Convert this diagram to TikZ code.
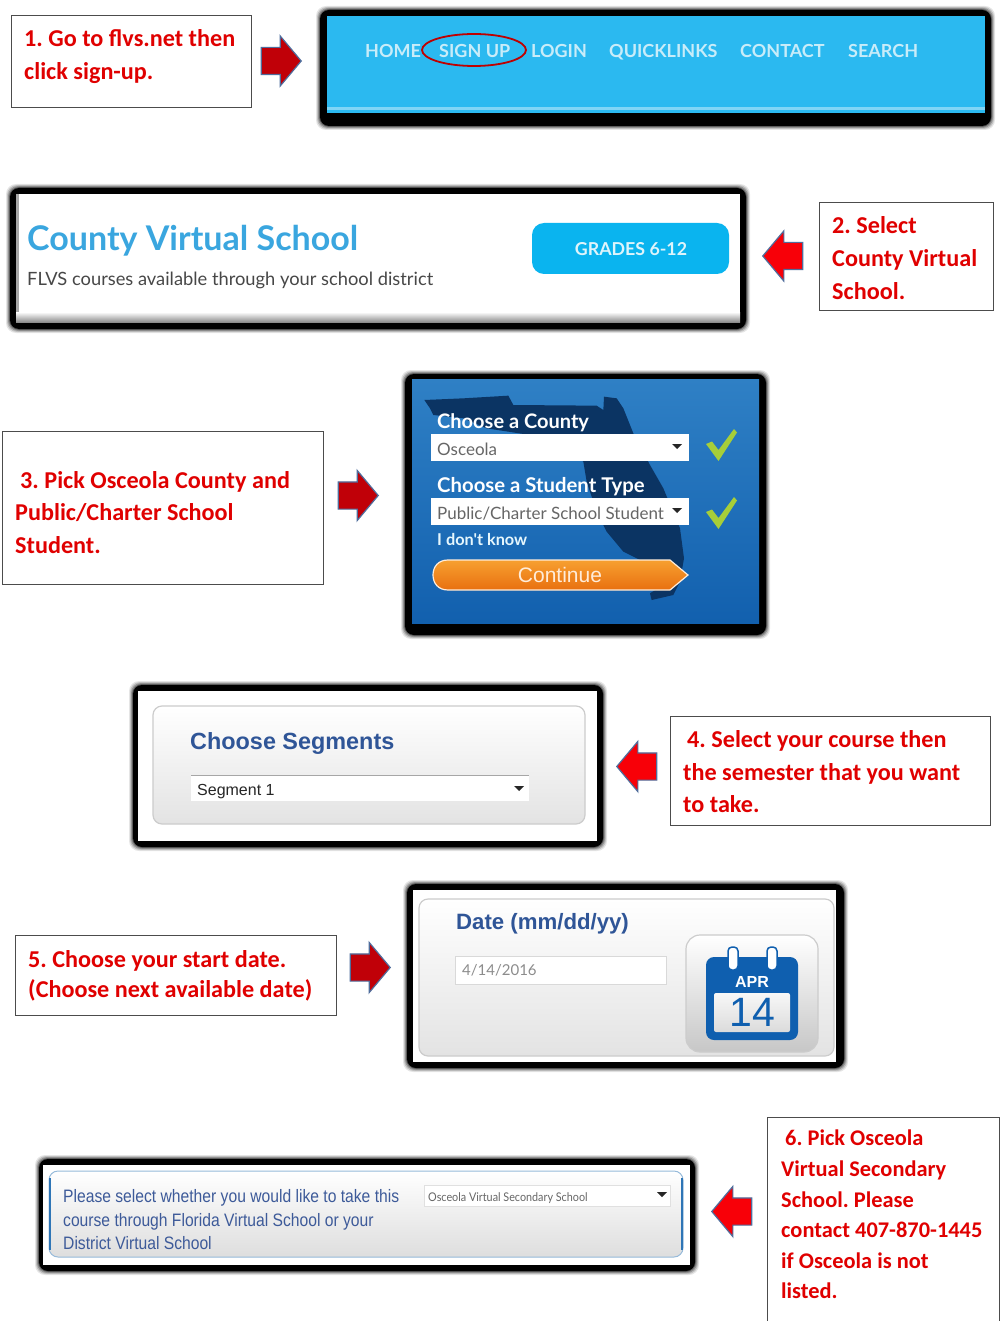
\documentclass[tikz,border=0pt]{standalone}
\usepackage{fontspec}
\setmainfont{Carlito}
\newfontfamily\uifont{Lato}
\newfontfamily\uinarrow[FakeStretch=0.9]{Lato}
\newfontfamily\arialfont{Liberation Sans}
\newfontfamily\arialnarrow[FakeStretch=0.87]{Liberation Sans}
\usetikzlibrary{shapes.arrows,shapes.geometric}
\definecolor{labred}{HTML}{E00000}
\definecolor{navtxt}{HTML}{C8ECF9}
\definecolor{skyblue}{HTML}{2BB9F0}
\definecolor{titleblue}{HTML}{3AA6DF}
\definecolor{heavyblue}{HTML}{2F5597}
\definecolor{arrowedge}{HTML}{4F6D9C}
\definecolor{darkarrow}{HTML}{C00008}
\definecolor{brightarrow}{HTML}{F80008}
\definecolor{floridablue}{HTML}{0B3463}
\definecolor{checkgreen}{HTML}{A6CE39}
\definecolor{calblue}{HTML}{0F5FAF}
\definecolor{panelline}{HTML}{CCCCCC}
\definecolor{segtext}{HTML}{3D5A99}
\definecolor{btnblue}{HTML}{0AB4EF}
\definecolor{fltop}{HTML}{2F80C5}
\definecolor{flbot}{HTML}{1260AE}
\definecolor{ortop}{HTML}{F7A030}
\definecolor{orbot}{HTML}{E87010}
\definecolor{sixedge}{HTML}{2E75B6}
\tikzset{
  x=1pt,y=-1pt,
  notebox/.style={draw=black!70,line width=1pt,fill=white},
  bluearrow/.style={single arrow,draw=arrowedge,line width=1.2pt,inner sep=0pt,
     minimum height=40pt,single arrow head extend=11.5pt,
     single arrow tip angle=100,single arrow head indent=0pt,anchor=tip},
  rightarrow/.style={bluearrow,fill=darkarrow},
  leftarrow/.style={bluearrow,fill=brightarrow,shape border rotate=180},
  lab/.style={anchor=base west,inner sep=0pt,text=labred,font=\bfseries\fontsize{24.2}{24.2}\selectfont\frenchspacing},
  labsix/.style={lab,font=\bfseries\fontsize{22.4}{22.4}\selectfont\frenchspacing},
  ui/.style={anchor=base west,inner sep=0pt},
  nav/.style={ui,text=navtxt,font=\uifont\bfseries\fontsize{18}{18}\selectfont},
  panel/.style={draw=panelline,line width=1.2pt,rounded corners=9pt,top color=white,bottom color=black!11},
  field/.style={fill=white,draw=none},
  caret/.style={fill=black!85,draw=none},
  tick/.style={fill=checkgreen,draw=none},
}
\newcommand{\shot}[4]{%
  \foreach \k/\o in {4/.10,3/.16,2/.24,1/.36}{
    \fill[black,opacity=\o,rounded corners=10pt] (#1-\k,#2-\k) rectangle (#3+\k,#4+\k);
  }
  \fill[black,rounded corners=9pt] (#1,#2) rectangle (#3,#4);
}
\newcommand{\drop}[2]{\fill[caret] (#1-5,#2-2) -- (#1+5,#2-2) -- (#1,#2+3) -- cycle;}
\newcommand{\tickmark}[2]{\fill[tick,shift={(#1,#2)}] (0,15) -- (6,12.5) -- (12.5,21) -- (28,0) -- (31,3.5) -- (12.5,32) -- cycle;}
\newcommand{\shaft}{\rule{0pt}{26pt}}
\begin{document}
\begin{tikzpicture}
\useasboundingbox (0,0) rectangle (1000,1321);
\fill[white] (0,0) rectangle (1000,1321);

% --- step 1
\draw[notebox] (11,16) rectangle (251,108);
\node[lab] (t1a) at (24,47) {1. Go to flvs.net then};
\node[lab] (t1b) at (24,80) {click sign-up.};
\node[rightarrow] (a1) at (302,61) {\shaft};
\shot{320}{10}{991}{126}
\fill[skyblue] (327,16) rectangle (985,113);
\fill[skyblue!60!white] (327,107) rectangle (985,110);
\node[nav] (n1) at (365,58) {HOME};
\node[nav] (n2) at (439,58) {SIGN UP};
\node[nav] (n3) at (531,58) {LOGIN};
\node[nav] (n4) at (609,58) {QUICKLINKS};
\node[nav] (n5) at (740,58) {CONTACT};
\node[nav] (n6) at (848,58) {SEARCH};
\draw[red!75!black,line width=1.8pt] (474,50) ellipse [x radius=52,y radius=16];

% --- step 2
\draw[notebox] (819,203) rectangle (993,310);
\node[lab] (t2a) at (832,234) {2. Select};
\node[lab] (t2b) at (832,267) {County Virtual};
\node[lab] (t2c) at (832,300) {School.};
\node[leftarrow] (a2) at (762,256) {\shaft};
\shot{10}{188}{746}{329}
\fill[white] (16,194) rectangle (740,322);
\fill[black!35] (16,194) rectangle (19,322);
\shade[top color=white,bottom color=black!45] (16,312) rectangle (740,322);
\node[ui,text=titleblue,font=\uifont\bfseries\fontsize{34}{34}\selectfont] (cvs) at (27,251) {County Virtual School};
\node[ui,text=black!72,font=\uifont\fontsize{18.3}{18.3}\selectfont] (flvs) at (27,286) {FLVS courses available through your school district};
\fill[btnblue,rounded corners=12pt] (532,223) rectangle (729,274);
\node[text=navtxt!60!white,font=\uifont\bfseries\fontsize{17.8}{17.8}\selectfont,inner sep=0pt] (gr) at (631,249) {GRADES 6-12};

% --- step 3
\draw[notebox] (2,431) rectangle (323,584);
\node[lab] (t3a) at (20,488) {3. Pick Osceola County and};
\node[lab] (t3b) at (15,520) {Public/Charter School};
\node[lab] (t3c) at (15,553) {Student.};
\node[rightarrow] (a3) at (379,495.5) {\shaft};
\shot{405}{374}{766}{635}
\shade[top color=fltop,bottom color=flbot] (412,379) rectangle (759,623);
\begin{scope}[shift={(330,365)},scale=1/3]
\fill[floridablue] (283,105) -- (400,100) -- (535,92) -- (550,120) -- (800,122) -- (820,135) -- (822,95) -- (860,100) -- (880,130) -- (910,205) -- (960,300) -- (1000,370) -- (1050,490) -- (1062,580) -- (1050,650) -- (1030,690) -- (965,705) -- (960,685) -- (1000,660) -- (1000,620) -- (880,560) -- (830,500) -- (800,440) -- (770,350) -- (760,290) -- (700,240) -- (600,210) -- (470,190) -- (400,160) -- (310,150) -- (300,130) -- cycle;
\end{scope}
\node[ui,text=white,font=\uifont\bfseries\fontsize{20}{20}\selectfont] (cc) at (437,428) {Choose a County};
\fill[field] (431,434) rectangle (689,461);
\node[ui,text=black!60,font=\uifont\fontsize{17}{17}\selectfont] (os) at (437,455) {Osceola};
\drop{677}{446}
\tickmark{706}{429}
\node[ui,text=white,font=\uifont\bfseries\fontsize{20.3}{20.3}\selectfont] (cs) at (437,492) {Choose a Student Type};
\fill[field] (431,498) rectangle (689,525);
\node[ui,text=black!60,font=\uifont\fontsize{17}{17}\selectfont] (pc) at (437,519) {Public/Charter School Student};
\drop{677}{510}
\tickmark{706}{497}
\node[ui,text=white!90!cyan,font=\uifont\bfseries\fontsize{16.3}{16.3}\selectfont] (dk) at (437,545) {I don't know};
\draw[draw=white!85!orange,line width=1.2pt,top color=ortop,bottom color=orbot]
  (670,560) -- (448,560) .. controls (438,560) and (433,567) .. (433,575) .. controls (433,583) and (438,590) .. (448,590) -- (670,590) -- (688,575) -- cycle;
\node[text=white!85!orange,font=\arialfont\fontsize{21}{21}\selectfont,inner sep=0pt] (cont) at (560,575) {Continue};

% --- step 4
\shot{133}{685}{603}{847}
\fill[white] (138,691) rectangle (597,841);
\draw[panel] (153,706) rectangle (585,824);
\node[ui,text=heavyblue,font=\arialfont\bfseries\fontsize{23.4}{23.4}\selectfont] (cs4) at (190,749) {Choose Segments};
\fill[field] (191,775) rectangle (529,801);
\draw[black!35,line width=.8pt] (191,775) -- (529,775);
\node[ui,text=black!85,font=\arialfont\fontsize{16}{16}\selectfont] (sg) at (197,795) {Segment 1};
\drop{519}{788}
\node[leftarrow] (a4) at (616,766.5) {\shaft};
\draw[notebox] (670,716) rectangle (990,825);
\node[lab] (t4a) at (687,747) {4. Select your course then};
\node[lab] (t4b) at (683,780) {the semester that you want};
\node[lab] (t4c) at (683,812) {to take.};

% --- step 5
\draw[notebox] (15,935) rectangle (336,1015);
\node[lab] (t5a) at (28,967) {5. Choose your start date.};
\node[lab] (t5b) at (28,997) {(Choose next available date)};
\node[rightarrow] (a5) at (391,967.5) {\shaft};
\shot{407}{884}{844}{1068}
\fill[white] (413,890) rectangle (836,1062);
\draw[panel] (419,899) rectangle (834,1056);
\node[ui,text=heavyblue,font=\arialfont\bfseries\fontsize{22.2}{22.2}\selectfont] (dt) at (456,929) {Date (mm/dd/yy)};
\draw[fill=white,draw=black!15] (455,956) rectangle (666,984);
\node[ui,text=black!45,font=\uifont\fontsize{15}{15}\selectfont] (dv) at (462,975) {4/14/2016};
\draw[panel,rounded corners=14pt,bottom color=black!22] (686,935) rectangle (818,1052);
\fill[calblue,rounded corners=8pt] (706,957) rectangle (798,1040);
\foreach \cx in {733,772}{
  \draw[calblue,line width=1.5pt,fill=white,rounded corners=4pt] (\cx-5,947) rectangle (\cx+5,970);
}
\shade[top color=black!3,bottom color=black!14,rounded corners=2pt] (714,993) rectangle (790,1032);
\node[text=white,font=\arialfont\bfseries\fontsize{16}{16}\selectfont,inner sep=0pt] (apr) at (752,982) {APR};
\node[text=calblue,font=\arialfont\fontsize{41}{41}\selectfont,inner sep=0pt] (day) at (752,1012) {14};

% --- step 6
\shot{39}{1159}{695}{1271}
\fill[white] (43,1165) rectangle (690,1265);
\draw[draw=sixedge!50!white,line width=1pt,rounded corners=9pt,top color=white,bottom color=black!13] (49,1171) rectangle (683,1257);
\draw[sixedge,line width=2pt] (50,1178) -- (50,1250);
\draw[sixedge,line width=2pt] (682,1178) -- (682,1250);
\node[ui,text=segtext,font=\arialnarrow\fontsize{18}{18}\selectfont] (p1) at (63,1202) {Please select whether you would like to take this};
\node[ui,text=segtext,font=\arialnarrow\fontsize{18}{18}\selectfont] (p2) at (63,1226) {course through Florida Virtual School or your};
\node[ui,text=segtext,font=\arialnarrow\fontsize{18}{18}\selectfont] (p3) at (63,1249) {District Virtual School};
\draw[fill=white,draw=black!12] (424,1185) rectangle (670,1206);
\node[ui,text=black!60,font=\uinarrow\fontsize{12}{12}\selectfont] (ov) at (428,1201) {Osceola Virtual Secondary School};
\drop{662}{1194}
\node[leftarrow] (a6) at (711,1211.5) {\shaft};
\draw[notebox] (767,1117) rectangle (999,1330);
\node[labsix] (t6a) at (785,1145) {6. Pick Osceola};
\node[labsix] (t6b) at (781,1176) {Virtual Secondary};
\node[labsix] (t6c) at (781,1207) {School. Please};
\node[labsix] (t6d) at (781,1237) {contact 407-870-1445};
\node[labsix] (t6e) at (781,1268) {if Osceola is not};
\node[labsix] (t6f) at (781,1298) {listed.};
\end{tikzpicture}
\end{document}
